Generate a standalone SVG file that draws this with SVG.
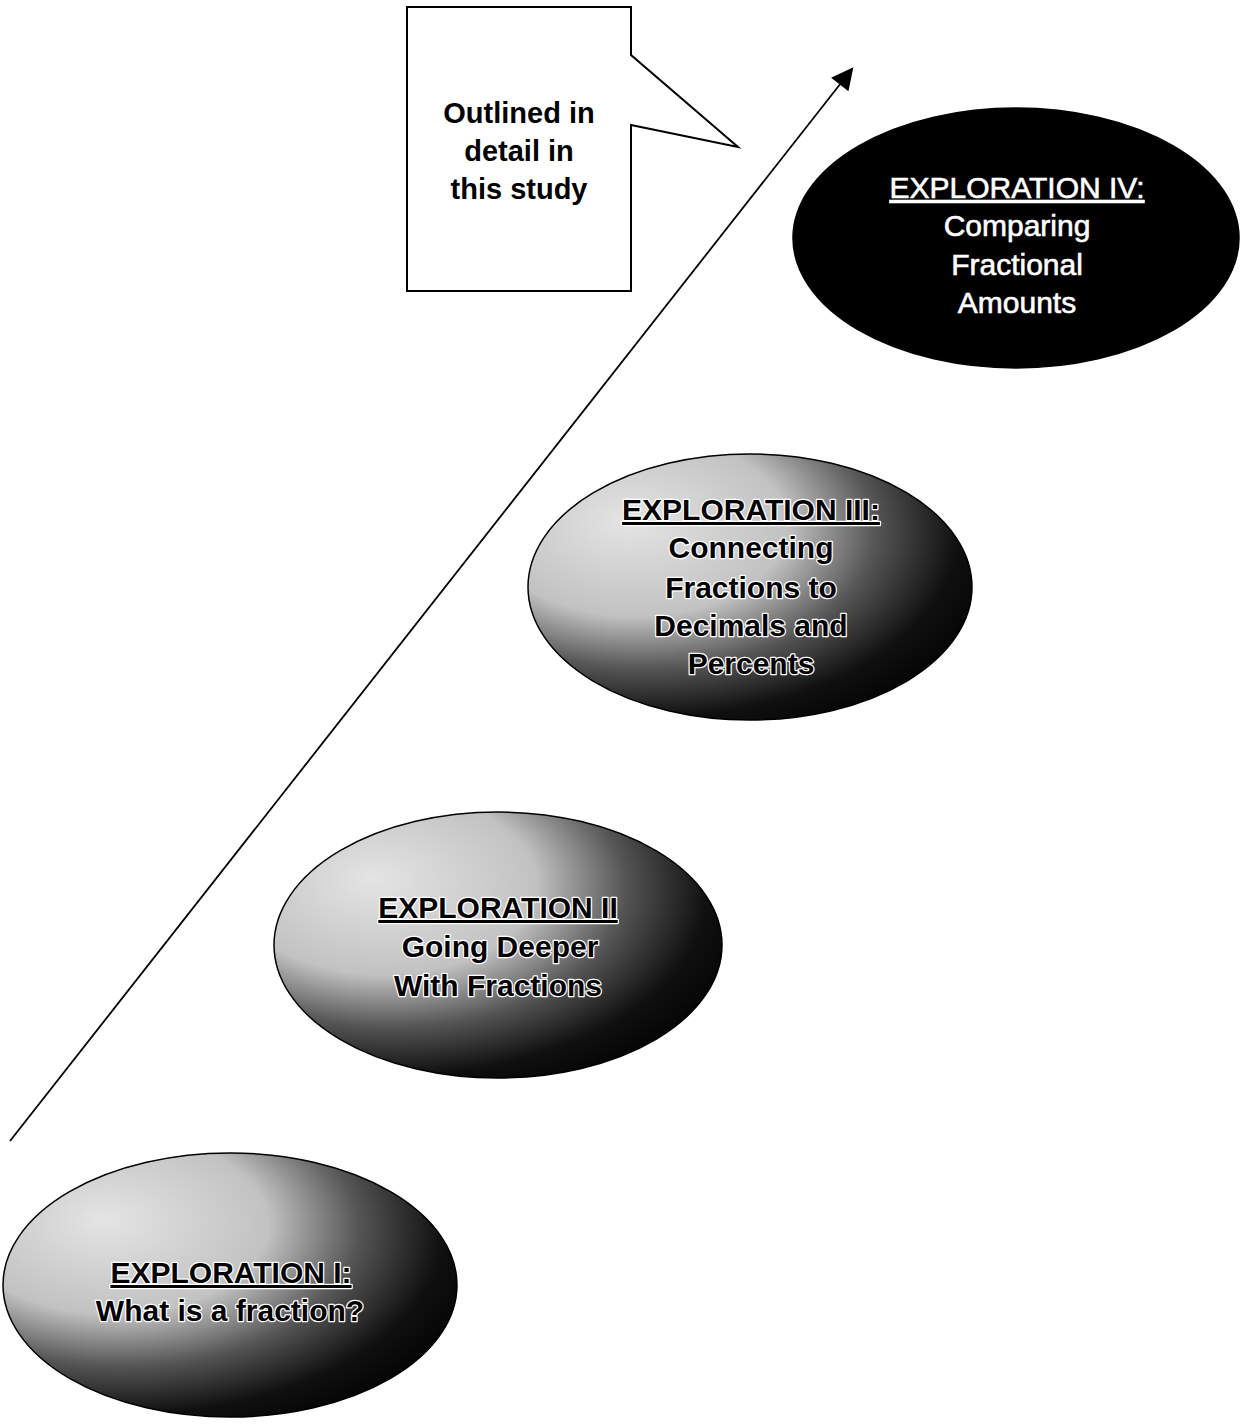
<svg xmlns="http://www.w3.org/2000/svg" width="1244" height="1426" viewBox="0 0 1244 1426">
  <style>
    .callout { fill: #ffffff; stroke: #000000; stroke-width: 2; }
    .callout-text { font-family: "Liberation Sans", Arial, sans-serif; font-weight: bold; font-size: 29px; fill: #000000; text-anchor: middle; }
    .dark { fill: #000000; stroke: #000000; stroke-width: 1.5; }
    .dark-text { font-family: "Liberation Sans", Arial, sans-serif; font-size: 30px; fill: #ffffff; stroke: #ffffff; stroke-width: 0.6; text-anchor: middle; }
    .shaded { fill: url(#shade); stroke: #000000; stroke-width: 1.5; }
    .shaded-text { font-family: "Liberation Sans", Arial, sans-serif; font-weight: bold; font-size: 30px; fill: #000000; stroke: #ffffff; stroke-width: 2.5; paint-order: stroke; stroke-linejoin: round; text-anchor: middle; }
    .ul { text-decoration: underline; }
    .connector { stroke: #000000; stroke-width: 1.8; fill: none; }
  </style>
  <defs>
    <radialGradient id="shade" cx="0.28" cy="0.3" r="0.85" fx="0.22" fy="0.25">
      <stop offset="0" stop-color="#e4e4e4"/>
      <stop offset="0.4" stop-color="#c2c2c2"/>
      <stop offset="0.62" stop-color="#555555"/>
      <stop offset="0.82" stop-color="#101010"/>
      <stop offset="1" stop-color="#000000"/>
    </radialGradient>
    <marker id="arrow" viewBox="0 0 10 10" refX="9" refY="5" markerWidth="26" markerHeight="22" markerUnits="userSpaceOnUse" orient="auto">
      <path d="M0,0 L10,5 L0,10 Z" fill="#000000"/>
    </marker>
  </defs>
  <rect x="0" y="0" width="1244" height="1426" fill="#ffffff"/>

  <g id="connectors">
    <line class="connector" x1="10" y1="1141" x2="852" y2="69" marker-end="url(#arrow)"/>
  </g>

  <g id="callout">
    <path class="callout" d="M407,7 H631 V55 L738,147 L631,125 V291 H407 Z"/>
    <text class="callout-text" x="519" y="123">Outlined in</text>
    <text class="callout-text" x="519" y="161">detail in</text>
    <text class="callout-text" x="519" y="199">this study</text>
  </g>

  <g id="exploration-iv">
    <ellipse class="dark" cx="1016" cy="238" rx="223" ry="130"/>
    <text class="dark-text ul" x="1017" y="198">EXPLORATION IV:</text>
    <text class="dark-text" x="1017" y="236">Comparing</text>
    <text class="dark-text" x="1017" y="275">Fractional</text>
    <text class="dark-text" x="1017" y="313">Amounts</text>
  </g>

  <g id="exploration-iii">
    <ellipse class="shaded" cx="750" cy="587" rx="222" ry="133"/>
    <text class="shaded-text ul" x="751" y="520">EXPLORATION III:</text>
    <text class="shaded-text" x="751" y="558">Connecting</text>
    <text class="shaded-text" x="751" y="598">Fractions to</text>
    <text class="shaded-text" x="751" y="636">Decimals and</text>
    <text class="shaded-text" x="751" y="674">Percents</text>
  </g>

  <g id="exploration-ii">
    <ellipse class="shaded" cx="498" cy="945" rx="224" ry="133"/>
    <text class="shaded-text ul" x="498" y="918">EXPLORATION II</text>
    <text class="shaded-text" x="500" y="957">Going Deeper</text>
    <text class="shaded-text" x="498" y="996">With Fractions</text>
  </g>

  <g id="exploration-i">
    <ellipse class="shaded" cx="230" cy="1285" rx="227" ry="132"/>
    <text class="shaded-text ul" x="231" y="1283">EXPLORATION I:</text>
    <text class="shaded-text" x="230" y="1321">What is a fraction?</text>
  </g>
</svg>
